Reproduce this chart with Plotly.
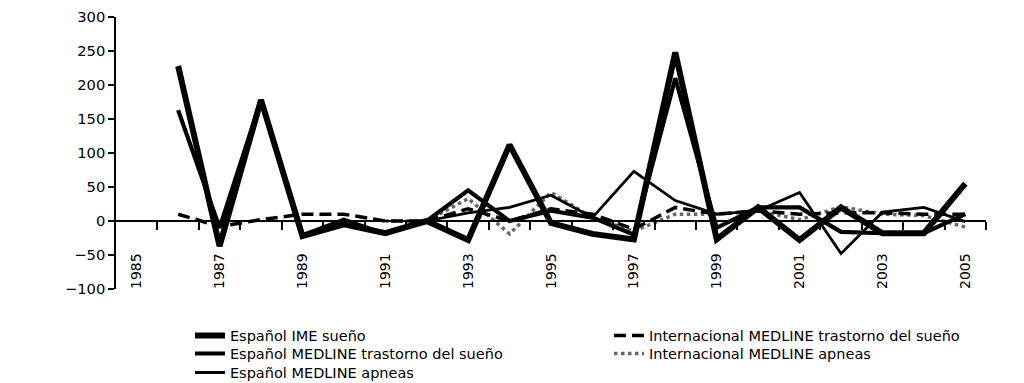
import plotly.graph_objects as go

years = list(range(1985, 2006))
tick_years = list(range(1985, 2006, 2))
tick_labels = [str(y) for y in tick_years]

ime_sueno = [None, 228, -37, 178, -22, -5, -18, 0, -28, 112, -3, -19, -27, 248, -27, 20, -28, 20, -18, -18, 55]
med_trastorno = [None, 163, -10, 178, -22, -3, -18, 0, 45, 0, 15, 5, -20, 210, -10, 20, 20, -16, -18, -18, 10]
med_apneas = [None, None, None, None, -20, 3, -18, 0, 12, 20, 38, 5, 73, 30, 10, 15, 42, -48, 13, 20, -1]
int_trastorno = [None, 10, -8, 2, 10, 10, 0, 0, 18, 0, 18, 10, -12, 20, 10, 15, 10, 12, 12, 10, 10]
int_apneas = [None, None, None, None, None, None, 0, 0, 33, -19, 42, 5, -15, 10, 10, 15, 2, 21, 10, 8, -9]

names = ["Español IME sueño", "Español MEDLINE trastorno del sueño", "Español MEDLINE apneas",
         "Internacional MEDLINE trastorno del sueño", "Internacional MEDLINE apneas"]

fig = go.Figure()
specs = [
    (int_apneas, names[4], dict(color="#666666", width=3.5, dash="dot"), 2, "legend2"),
    (int_trastorno, names[3], dict(color="black", width=3.5, dash="12px,6px"), 2, "legend"),
    (med_apneas, names[2], dict(color="black", width=2.8), 1, "legend3"),
    (med_trastorno, names[1], dict(color="black", width=4.2), 1, "legend2"),
    (ime_sueno, names[0], dict(color="black", width=6), 1, "legend"),
]
for vals, nm, ln, rank, lg in specs:
    fig.add_trace(go.Scatter(x=years, y=vals, name=nm, mode="lines", line=ln,
                             legendrank=rank, legend=lg, connectgaps=False))

font = "DejaVu Sans, Arial, sans-serif"
leg_common = dict(orientation="h", x=0.085, xanchor="left", yanchor="top",
                  entrywidth=374, entrywidthmode="pixels", font=dict(size=14.5),
                  traceorder="normal", bgcolor="rgba(0,0,0,0)")
fig.update_layout(
    width=1016, height=375,
    margin=dict(l=108, r=38, t=9, b=94, autoexpand=False),
    plot_bgcolor="white", paper_bgcolor="white",
    font=dict(family=font, size=14.5, color="black"),
    showlegend=True,
    legend=dict(leg_common, y=-0.1124),
    legend2=dict(leg_common, y=-0.1785),
    legend3=dict(leg_common, y=-0.2484),
    xaxis=dict(range=[1984.5, 2005.5], anchor="free", position=0.25,
               showline=True, linecolor="black", linewidth=1.5,
               showgrid=False, zeroline=False,
               tickmode="array", tickvals=tick_years, ticktext=tick_labels,
               ticks="", tickangle=-90, ticklabelstandoff=26,
               tickfont=dict(size=14),
               minor=dict(tickmode="array", tickvals=[y + 0.5 for y in years],
                          ticks="outside", ticklen=8, tickwidth=1.5, tickcolor="black",
                          showgrid=False)),
    yaxis=dict(range=[-100, 300], dtick=50, showline=True, linecolor="black", linewidth=1.5,
               ticks="outside", ticklen=6, tickwidth=1.5, tickcolor="black",
               showgrid=False, zeroline=False, tickfont=dict(size=14.7)),
)
fig.write_html("out.html")
